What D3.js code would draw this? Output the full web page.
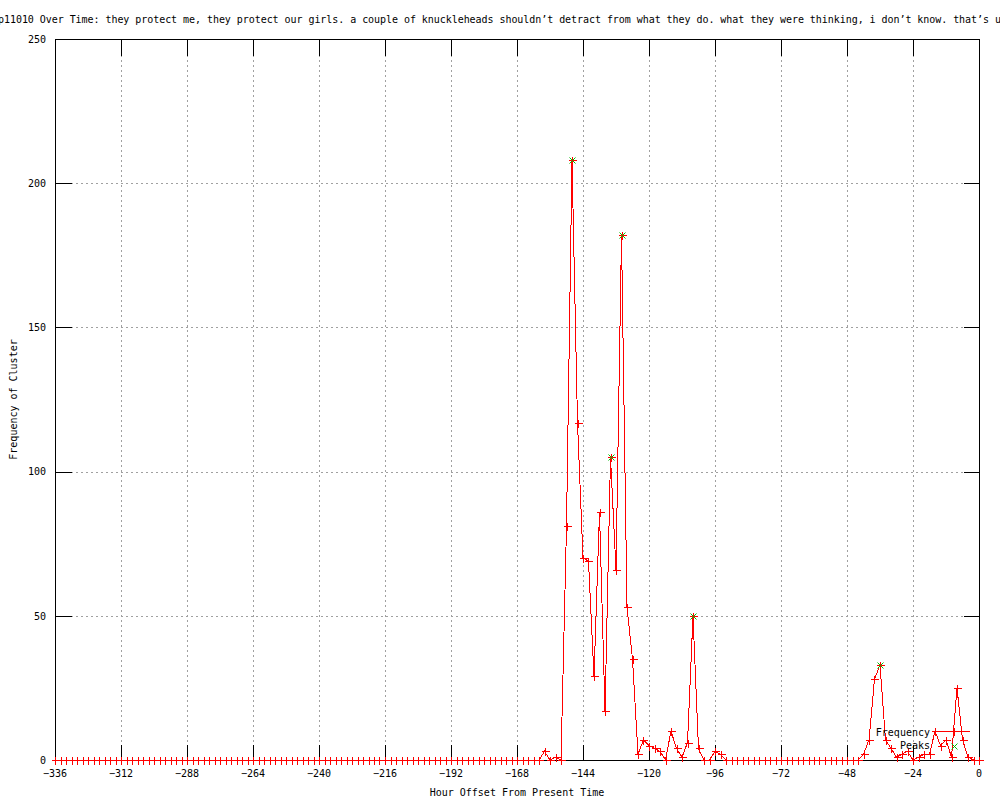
<!DOCTYPE html>
<html>
<head>
<meta charset="utf-8">
<script src="https://cdn.jsdelivr.net/npm/d3@7"></script>
<style>
body { margin: 0; background: #fff; }
svg { display: block; }
text { font-family: "DejaVu Sans Mono", monospace; font-size: 10px; fill: #000; }
</style>
</head>
<body>
<svg id="chart" width="1000" height="800"></svg>
<script>
var titleText = "p11010 Over Time: they protect me, they protect our girls. a couple of knuckleheads shouldn\u2019t detract from what they do. what they were thinking, i don\u2019t know. that\u2019s u";

// hour offsets, one bin every 2 hours
var hours = d3.range(-336, 1, 2);
// frequency per bin
var counts = [
    0, 0, 0, 0, 0, 0, 0, 0, 0, 0, 0, 0,          // -336 .. -314
    0, 0, 0, 0, 0, 0, 0, 0, 0, 0, 0, 0,          // -312 .. -290
    0, 0, 0, 0, 0, 0, 0, 0, 0, 0, 0, 0,          // -288 .. -266
    0, 0, 0, 0, 0, 0, 0, 0, 0, 0, 0, 0,          // -264 .. -242
    0, 0, 0, 0, 0, 0, 0, 0, 0, 0, 0, 0,          // -240 .. -218
    0, 0, 0, 0, 0, 0, 0, 0, 0, 0, 0, 0,          // -216 .. -194
    0, 0, 0, 0, 0, 0, 0, 0, 0, 0, 0, 0,          // -192 .. -170
    0, 0, 0, 0, 0, 3, 0, 1, 0, 81, 208, 117,     // -168 .. -146
    70, 69, 29, 86, 17, 105, 66, 182, 53, 35, 2, 7, // -144 .. -122
    5, 4, 3, 0, 10, 4, 1, 6, 50, 4, 0, 0,        // -120 .. -98
    3, 2, 0, 0, 0, 0, 0, 0, 0, 0, 0, 0,          // -96 .. -74
    0, 0, 0, 0, 0, 0, 0, 0, 0, 0, 0, 0,          // -72 .. -50
    0, 0, 0, 2, 7, 28, 33, 7, 4, 1, 2, 3,        // -48 .. -26
    0, 1, 2, 2, 10, 5, 7, 1, 25, 7, 1, 0,        // -24 .. -2
    0                                            // 0
];
var peakHours = [-148, -134, -130, -104, -36];
var peakCounts = [208, 105, 182, 50, 33];
var xTicks = [-336, -312, -288, -264, -240, -216, -192, -168, -144, -120, -96, -72, -48, -24, 0];
var yTicks = [0, 50, 100, 150, 200, 250];
var legendNames = ["Frequency", "Peaks"];

var plotLeft = 55, plotRight = 979, plotTop = 39, plotBottom = 760;
var tickLen = 16;

var svg = d3.select("#chart");

var x = d3.scaleLinear().domain([-336, 0]).range([plotLeft, plotRight]);
var y = d3.scaleLinear().domain([0, 250]).range([plotBottom, plotTop]);
function px(v) { return Math.round(x(v)) + 0.5; }
function py(v) { return Math.round(y(v)) + 0.5; }

// grid
var grid = svg.append("g").attr("class", "grid")
    .attr("stroke", "#a0a0a0").attr("stroke-dasharray", "2,3")
    .attr("shape-rendering", "crispEdges");
grid.selectAll("line.v")
    .data(xTicks.filter(function (d) { return d > -336 && d < 0; }))
    .enter().append("line").attr("class", "v")
    .attr("x1", px).attr("x2", px)
    .attr("y1", py(250)).attr("y2", py(0));
grid.selectAll("line.h")
    .data(yTicks.filter(function (d) { return d > 0 && d < 250; }))
    .enter().append("line").attr("class", "h")
    .attr("x1", px(-336)).attr("x2", px(0))
    .attr("y1", py).attr("y2", py);

// ticks (inward, mirrored)
var ticks = svg.append("g").attr("stroke", "#000").attr("shape-rendering", "crispEdges");
xTicks.forEach(function (d) {
    ticks.append("line").attr("x1", px(d)).attr("x2", px(d)).attr("y1", py(0)).attr("y2", py(0) - tickLen);
    ticks.append("line").attr("x1", px(d)).attr("x2", px(d)).attr("y1", py(250)).attr("y2", py(250) + tickLen);
});
yTicks.forEach(function (d) {
    ticks.append("line").attr("x1", px(-336)).attr("x2", px(-336) + tickLen).attr("y1", py(d)).attr("y2", py(d));
    ticks.append("line").attr("x1", px(0)).attr("x2", px(0) - tickLen).attr("y1", py(d)).attr("y2", py(d));
});

// border
svg.append("rect")
    .attr("x", px(-336)).attr("y", py(250))
    .attr("width", px(0) - px(-336)).attr("height", py(0) - py(250))
    .attr("fill", "none").attr("stroke", "#000").attr("shape-rendering", "crispEdges");

// tick labels
svg.append("g").selectAll("text")
    .data(xTicks).enter().append("text")
    .attr("x", function (d) { return x(d); })
    .attr("y", plotBottom + 17)
    .attr("text-anchor", "middle")
    .text(function (d) { return d === 0 ? "0" : "\u2212" + Math.abs(d); });
svg.append("g").selectAll("text")
    .data(yTicks).enter().append("text")
    .attr("x", plotLeft - 9)
    .attr("y", function (d) { return y(d) + 3.7; })
    .attr("text-anchor", "end")
    .text(function (d) { return d; });

// axis titles
svg.append("text")
    .attr("x", (plotLeft + plotRight) / 2).attr("y", 796)
    .attr("text-anchor", "middle")
    .text("Hour Offset From Present Time");
svg.append("text")
    .attr("transform", "translate(17," + (plotTop + plotBottom) / 2 + ") rotate(-90)")
    .attr("text-anchor", "middle")
    .text("Frequency of Cluster");

// title
svg.append("text")
    .attr("x", -2).attr("y", 23)
    .attr("textLength", 168 * 5.97).attr("lengthAdjust", "spacing")
    .text(titleText);

// marker shapes
function plus(cx, cy) {
    cx = Math.round(cx) + 0.5; cy = Math.round(cy) + 0.5;
    return "M" + (cx - 4) + "," + cy + "H" + (cx + 4) + "M" + cx + "," + (cy - 4) + "V" + (cy + 4);
}
function cross(cx, cy) {
    cx = Math.round(cx) + 0.5; cy = Math.round(cy) + 0.5;
    return "M" + (cx - 3) + "," + (cy - 3) + "L" + (cx + 3) + "," + (cy + 3) +
        "M" + (cx - 3) + "," + (cy + 3) + "L" + (cx + 3) + "," + (cy - 3);
}

// frequency series
var series = hours.map(function (h, i) { return { h: h, v: counts[i] }; });
var line = d3.line().x(function (d) { return x(d.h); }).y(function (d) { return y(d.v); });
svg.append("path").datum(series)
    .attr("d", line)
    .attr("fill", "none").attr("stroke", "#ff0000").attr("stroke-width", 1)
    .attr("shape-rendering", "crispEdges");
svg.append("g").selectAll("path")
    .data(series).enter().append("path")
    .attr("d", function (d) { return plus(x(d.h), y(d.v)); })
    .attr("stroke", "#ff0000").attr("fill", "none").attr("shape-rendering", "crispEdges");

// peaks
var peaks = peakHours.map(function (h, i) { return { h: h, v: peakCounts[i] }; });
svg.append("g").selectAll("path")
    .data(peaks).enter().append("path")
    .attr("d", function (d) { return cross(x(d.h), y(d.v)); })
    .attr("stroke", "#00c000").attr("fill", "none");

// legend
var leg = svg.append("g");
leg.append("text").attr("x", 930).attr("y", 736).attr("text-anchor", "end").text(legendNames[0]);
leg.append("text").attr("x", 930).attr("y", 749).attr("text-anchor", "end").text(legendNames[1]);
leg.append("line").attr("x1", 937).attr("x2", 970).attr("y1", 731.5).attr("y2", 731.5)
    .attr("stroke", "#ff0000").attr("shape-rendering", "crispEdges");
leg.append("path").attr("d", plus(953.5, 731)).attr("stroke", "#ff0000").attr("shape-rendering", "crispEdges");
leg.append("path").attr("d", cross(953.5, 745.5)).attr("stroke", "#00c000");
</script>
</body>
</html>
